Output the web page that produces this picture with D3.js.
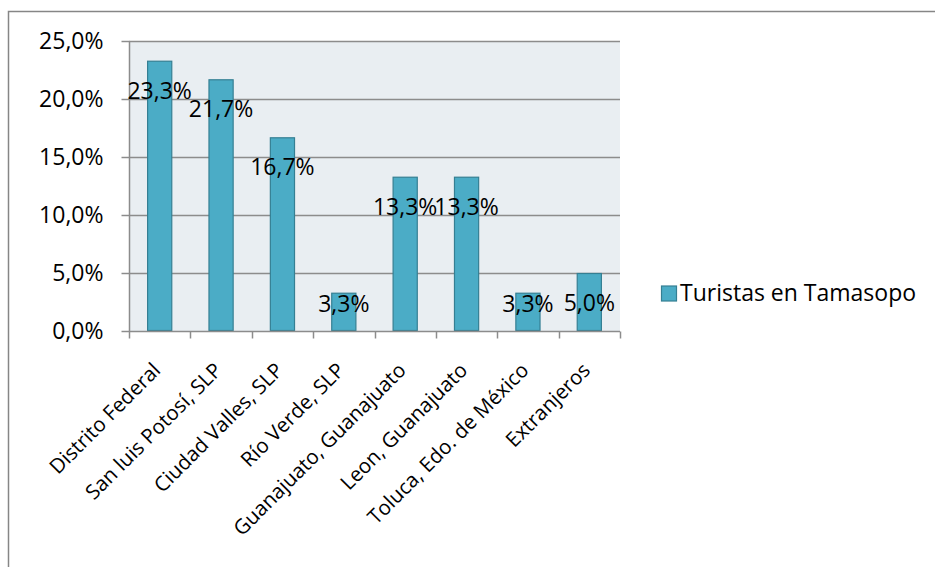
<!DOCTYPE html>
<html>
<head>
<meta charset="utf-8">
<script src="https://cdn.jsdelivr.net/npm/d3@7"></script>
<style>
  body { margin: 0; background: #fff; }
  svg text { font-family: "Open Sans", sans-serif; fill: #000; }
</style>
</head>
<body>
<svg id="chart" width="935" height="567"></svg>
<script>
'use strict';

var categories = [
    'Distrito Federal',
    'San luis Potosí, SLP',
    'Ciudad Valles, SLP',
    'Río Verde, SLP',
    'Guanajuato, Guanajuato',
    'Leon, Guanajuato',
    'Toluca, Edo. de México',
    'Extranjeros'
];
var values = [23.3, 21.7, 16.7, 3.3, 13.3, 13.3, 3.3, 5.0];
var yTicks = [0, 5, 10, 15, 20, 25];
var seriesName = 'Turistas en Tamasopo';

var svg = d3.select('#chart'),
    plot = { left: 129, right: 620, top: 41, bottom: 331 },
    fontSize = 23,
    catFontSize = 20.5,
    fmt = function( v ){ return d3.format('.1f')( v ).replace('.', ',') + '%'; };

// outer chart frame
svg.append('rect')
    .attr('x', 8.5).attr('y', 11.5)
    .attr('width', 940).attr('height', 570)
    .attr('fill', 'none')
    .attr('stroke', '#868686')
    .attr('stroke-width', 1.5);

var x = d3.scaleBand()
    .domain( categories )
    .range( [plot.left, plot.right] )
    .paddingInner( 0.59 )
    .paddingOuter( 0.295 );

var xOuter = d3.scaleBand()
    .domain( categories )
    .range( [plot.left, plot.right] );

var y = d3.scaleLinear()
    .domain( [0, 25] )
    .range( [plot.bottom, plot.top] );

svg.append('rect')
    .attr('x', plot.left).attr('y', plot.top)
    .attr('width', plot.right - plot.left)
    .attr('height', plot.bottom - plot.top)
    .attr('fill', '#E9EEF2');

// gridlines
svg.append('g')
    .selectAll('line')
    .data( yTicks.filter( function( t ){ return t > 0; } ) )
    .join('line')
    .attr('x1', plot.left).attr('x2', plot.right)
    .attr('y1', function( d ){ return Math.round( y(d) ) + 0.5; })
    .attr('y2', function( d ){ return Math.round( y(d) ) + 0.5; })
    .attr('stroke', '#8C8C8C')
    .attr('stroke-width', 1.5);

// y axis
var yAxis = svg.append('g')
    .attr('transform', 'translate(' + (plot.left + 0.5) + ',0)')
    .call( d3.axisLeft( y ).tickValues( yTicks ).tickSize( 8 ).tickPadding( 18 ).tickFormat( fmt ) );
yAxis.selectAll('text').style('font-size', fontSize + 'px').attr('font-family', null);
yAxis.selectAll('line, path').attr('stroke', '#8C8C8C').attr('stroke-width', 1.5);
yAxis.select('.domain').attr('d', 'M0,' + plot.top + 'V' + plot.bottom);

// bars
svg.append('g')
    .selectAll('rect')
    .data( values )
    .join('rect')
    .attr('x', function( d, i ){ return x( categories[i] ) + 0.5; })
    .attr('y', function( d ){ return y(d) + 0.5; })
    .attr('width', x.bandwidth() - 1)
    .attr('height', function( d ){ return y(0) - y(d) - 1; })
    .attr('fill', '#4BACC6')
    .attr('stroke', '#357F93')
    .attr('stroke-width', 1.2);

// x axis
var xAxis = svg.append('g')
    .attr('transform', 'translate(0,' + (plot.bottom + 0.5) + ')')
    .call( d3.axisBottom( xOuter ).tickSize( 0 ).tickFormat( '' ) );
xAxis.select('.domain').attr('stroke', '#8C8C8C').attr('stroke-width', 1.5)
    .attr('d', 'M' + plot.left + ',0H' + plot.right);

xAxis.append('g')
    .selectAll('line')
    .data( categories.map( function( c ){ return xOuter( c ); } ).concat( [plot.right] ) )
    .join('line')
    .attr('x1', function( d ){ return Math.round( d ) + 0.5; })
    .attr('x2', function( d ){ return Math.round( d ) + 0.5; })
    .attr('y1', 0).attr('y2', 7)
    .attr('stroke', '#8C8C8C')
    .attr('stroke-width', 1.5);

xAxis.append('g')
    .selectAll('text')
    .data( categories )
    .join('text')
    .attr('transform', function( d ){
        var cx = xOuter( d ) + xOuter.bandwidth() / 2 - 3;
        return 'translate(' + cx + ',35) rotate(-45)';
    })
    .attr('text-anchor', 'end')
    .attr('dy', '0.35em')
    .style('font-size', catFontSize + 'px')
    .text( function( d ){ return d; } );

// data labels
svg.append('g')
    .selectAll('text')
    .data( values )
    .join('text')
    .attr('x', function( d, i ){ return x( categories[i] ) + x.bandwidth() / 2; })
    .attr('y', function( d ){ return Math.min( y(d) + 30, 304 ); })
    .attr('text-anchor', 'middle')
    .attr('dy', '0.35em')
    .style('font-size', fontSize + 'px')
    .text( fmt );

// legend
var legend = svg.append('g').attr('transform', 'translate(661,293)');
legend.append('rect')
    .attr('x', 0.5).attr('y', -7)
    .attr('width', 15).attr('height', 15)
    .attr('fill', '#4BACC6')
    .attr('stroke', '#357F93')
    .attr('stroke-width', 1.2);
legend.append('text')
    .attr('x', 19)
    .attr('dy', '0.35em')
    .style('font-size', fontSize + 'px')
    .text( seriesName );
</script>
</body>
</html>
